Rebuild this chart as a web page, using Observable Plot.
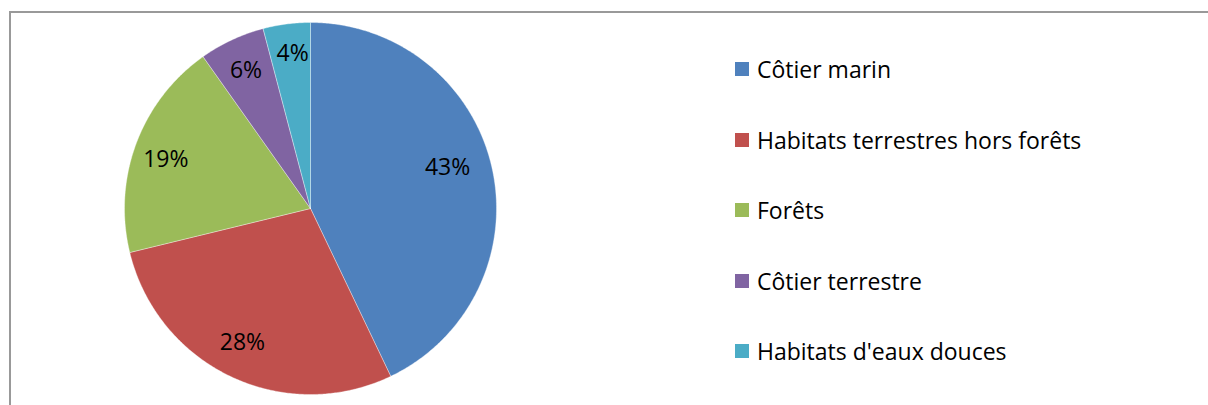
<!DOCTYPE html>
<html><head><meta charset="utf-8">
<script src="https://cdn.jsdelivr.net/npm/d3@7"></script>
<script src="https://cdn.jsdelivr.net/npm/@observablehq/plot@0.6"></script>
<style>
html,body{margin:0;padding:0;background:#fff;overflow:hidden;width:1208px;height:405px;}
#frame{position:absolute;left:9px;top:11px;width:1400px;height:600px;border:2px solid #999;box-sizing:border-box;}
#chart{position:absolute;left:0;top:0;}
#legend{position:absolute;left:735px;top:34px;font-family:"Open Sans",Lato,sans-serif;font-size:23px;color:#000;}
.item{display:flex;align-items:center;height:70.5px;}
.sw{width:14px;height:14px;margin-right:8px;flex:none;}
</style></head>
<body>
<div id="frame"></div>
<div id="chart"></div>
<div id="legend"></div>
<script>
const categories = ["Côtier marin", "Habitats terrestres hors forêts", "Forêts", "Côtier terrestre", "Habitats d'eaux douces"];
const values = [42.9, 28.3, 19.0, 5.7, 4.1];
const labels = ["43%", "28%", "19%", "6%", "4%"];
const colors = ["#4F81BD", "#C0504D", "#9BBB59", "#8064A2", "#4BACC6"];

const total = d3.sum(values);
const pts = [];
const cents = [];
// label placement tweaks (radius fraction, angle shift in degrees), like Excel's best fit
const lr = [0.77, 0.81, 0.82, 0.82, 0.84];
const la = [-4, 1.5, -2, 0, 0.8];
let acc = 0;
values.forEach((v, i) => {
  const a0 = acc / total * 2 * Math.PI;
  acc += v;
  const a1 = acc / total * 2 * Math.PI;
  const n = Math.max(4, Math.ceil((a1 - a0) * 180 / Math.PI * 2));
  pts.push({cat: categories[i], x: 0, y: 0});
  for (let k = 0; k <= n; k++) {
    const t = a0 + (a1 - a0) * k / n;
    pts.push({cat: categories[i], x: Math.sin(t), y: Math.cos(t)});
  }
  pts.push({cat: categories[i], x: 0, y: 0});
  const m = (a0 + a1) / 2 + la[i] * Math.PI / 180;
  cents.push({cat: categories[i], label: labels[i], x: lr[i] * Math.sin(m), y: lr[i] * Math.cos(m)});
});

const chart = Plot.plot({
  width: 1208,
  height: 405,
  margin: 0,
  x: {domain: [-1, 1], range: [124, 496], axis: null},
  y: {domain: [-1, 1], range: [394, 22], axis: null},
  color: {domain: categories, range: colors},
  style: {background: "transparent", fontFamily: "'Open Sans', Lato, sans-serif"},
  marks: [
    Plot.line(pts, {x: "x", y: "y", z: "cat", fill: "cat", stroke: "#fff", strokeWidth: 0.6, strokeOpacity: 0.6, curve: "linear"}),
    Plot.text(cents, {x: "x", y: "y", text: "label", fill: "#000", fontSize: 23})
  ]
});
document.getElementById("chart").appendChild(chart);

const leg = d3.select("#legend");
categories.forEach((c, i) => {
  const it = leg.append("div").attr("class", "item");
  it.append("div").attr("class", "sw").style("background", colors[i]);
  it.append("span").text(c);
});
</script>
</body></html>
